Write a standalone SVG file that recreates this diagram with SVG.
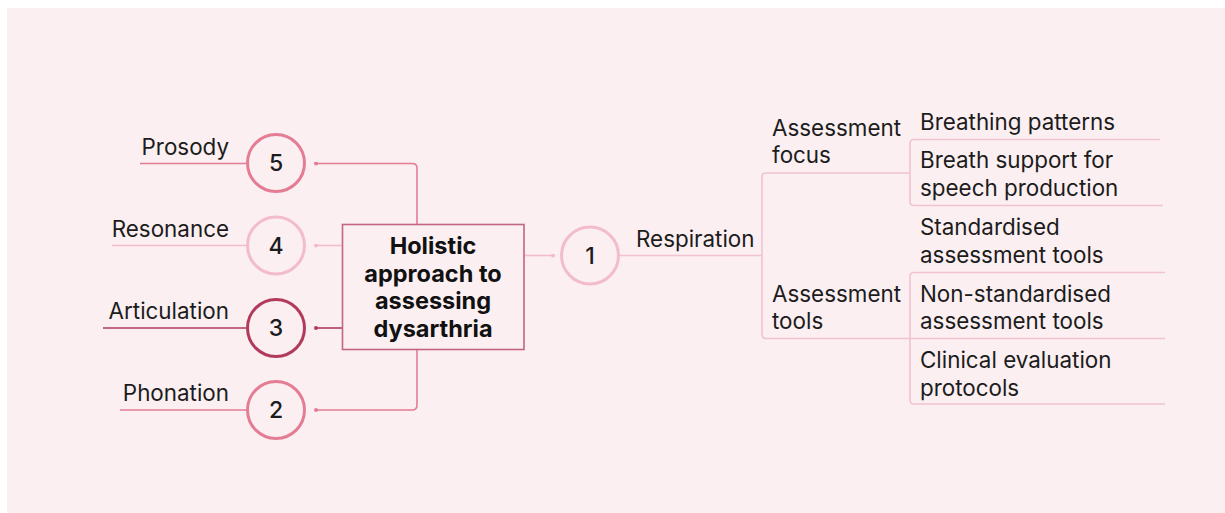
<svg xmlns="http://www.w3.org/2000/svg" width="1225" height="513" viewBox="0 0 1225 513">
  <style>
    .lbl { font-family: Inter, "Liberation Sans", sans-serif; font-size: 22.4px; fill: #1c1c1c; }
    .end { text-anchor: end; }
    .num { font-family: Inter, "Liberation Sans", sans-serif; font-size: 23px; font-weight: 500; fill: #1c1c1c; text-anchor: middle; }
    .title { font-family: Inter, "Liberation Sans", sans-serif; font-size: 23.5px; font-weight: 700; fill: #111; text-anchor: middle; }
    .ring { fill: #fbeff2; stroke-width: 3; }
    .c-mid { stroke: #e47c94; }
    .c-light { stroke: #f3bccb; }
    .c-dark { stroke: #b23b5c; }
    .ln { fill: none; stroke-width: 1.6; }
    .soft { fill: none; stroke: #f1c3cf; stroke-width: 1.6; }
  </style>
  <defs>
    <marker id="dotMid" viewBox="0 0 6 6" refX="3" refY="3" markerWidth="4" markerHeight="4" markerUnits="userSpaceOnUse">
      <circle cx="3" cy="3" r="3" fill="#e47c94"/>
    </marker>
    <marker id="dotLight" viewBox="0 0 6 6" refX="3" refY="3" markerWidth="4" markerHeight="4" markerUnits="userSpaceOnUse">
      <circle cx="3" cy="3" r="3" fill="#f3bccb"/>
    </marker>
    <marker id="dotDark" viewBox="0 0 6 6" refX="3" refY="3" markerWidth="4" markerHeight="4" markerUnits="userSpaceOnUse">
      <circle cx="3" cy="3" r="3" fill="#b23b5c"/>
    </marker>
  </defs>

  <!-- panel -->
  <rect x="0" y="0" width="1225" height="513" fill="#ffffff"/>
  <rect x="7" y="8" width="1218" height="505" fill="#fbeff2"/>

  <!-- connectors -->
  <g id="connectors">
    <!-- hub to numbered rings -->
    <path class="ln c-mid" d="M417 224 V168 Q417 163.5 412 163.5 H316" marker-end="url(#dotMid)"/>
    <path class="ln c-light" d="M342 245.5 H316" marker-end="url(#dotLight)"/>
    <path class="ln c-dark" d="M342 328 H316" marker-end="url(#dotDark)"/>
    <path class="ln c-mid" d="M417 350 V405 Q417 410 412 410 H316" marker-end="url(#dotMid)"/>
    <path class="ln c-light" d="M524 255.5 H553" marker-end="url(#dotLight)"/>

    <!-- label underlines on the left -->
    <path class="ln c-mid" d="M140 163.5 H246"/>
    <path class="ln c-light" d="M112 245.5 H246"/>
    <path class="ln c-dark" d="M103 328 H246"/>
    <path class="ln c-mid" d="M120 410 H246"/>

    <!-- respiration branch -->
    <path class="soft" d="M620 255.5 H762"/>
    <path class="soft" d="M910 173 H766 Q762 173 762 177 V334 Q762 338.5 766 338.5 H910"/>
    <path class="soft" d="M1160 139.5 H914 Q910 139.5 910 143.5 V201.5 Q910 205.5 914 205.5 H1163"/>
    <path class="soft" d="M1165 272.5 H914 Q910 272.5 910 276.5 V400 Q910 404 914 404 H1165"/>
    <path class="soft" d="M910 338.5 H1165"/>
  </g>

  <!-- hub -->
  <g id="hub">
    <rect x="342.5" y="224.5" width="181.5" height="125" fill="#fbeff2" stroke="#c36482" stroke-width="1.6"/>
    <text class="title" x="433" y="254">Holistic</text>
    <text class="title" x="433" y="281.5">approach to</text>
    <text class="title" x="433" y="309">assessing</text>
    <text class="title" x="433" y="336.5">dysarthria</text>
  </g>

  <!-- numbered rings -->
  <g id="node-5">
    <circle class="ring c-mid" cx="276" cy="163" r="28.5"/>
    <text class="num" x="276" y="171">5</text>
    <text class="lbl end" x="229" y="155">Prosody</text>
  </g>
  <g id="node-4">
    <circle class="ring c-light" cx="276" cy="245.5" r="28.5"/>
    <text class="num" x="276" y="253.5">4</text>
    <text class="lbl end" x="229" y="237">Resonance</text>
  </g>
  <g id="node-3">
    <circle class="ring c-dark" cx="276" cy="328" r="28.5"/>
    <text class="num" x="276" y="336">3</text>
    <text class="lbl end" x="229" y="319">Articulation</text>
  </g>
  <g id="node-2">
    <circle class="ring c-mid" cx="276" cy="410" r="28.5"/>
    <text class="num" x="276" y="418">2</text>
    <text class="lbl end" x="229" y="401">Phonation</text>
  </g>
  <g id="node-1">
    <circle class="ring c-light" cx="590" cy="255.5" r="28.5"/>
    <text class="num" x="590" y="263.5">1</text>
    <text class="lbl" x="636" y="247">Respiration</text>
  </g>

  <!-- respiration sub-topics -->
  <g id="assessment-focus">
    <text class="lbl" x="772" y="136">Assessment</text>
    <text class="lbl" x="772" y="163">focus</text>
  </g>
  <g id="assessment-tools">
    <text class="lbl" x="772" y="302">Assessment</text>
    <text class="lbl" x="772" y="329">tools</text>
  </g>

  <g id="breathing-patterns">
    <text class="lbl" x="920" y="130">Breathing patterns</text>
  </g>
  <g id="breath-support">
    <text class="lbl" x="920" y="168">Breath support for</text>
    <text class="lbl" x="920" y="196">speech production</text>
  </g>
  <g id="standardised-tools">
    <text class="lbl" x="920" y="235">Standardised</text>
    <text class="lbl" x="920" y="263">assessment tools</text>
  </g>
  <g id="non-standardised-tools">
    <text class="lbl" x="920" y="302">Non-standardised</text>
    <text class="lbl" x="920" y="329">assessment tools</text>
  </g>
  <g id="clinical-protocols">
    <text class="lbl" x="920" y="368">Clinical evaluation</text>
    <text class="lbl" x="920" y="396">protocols</text>
  </g>
</svg>
